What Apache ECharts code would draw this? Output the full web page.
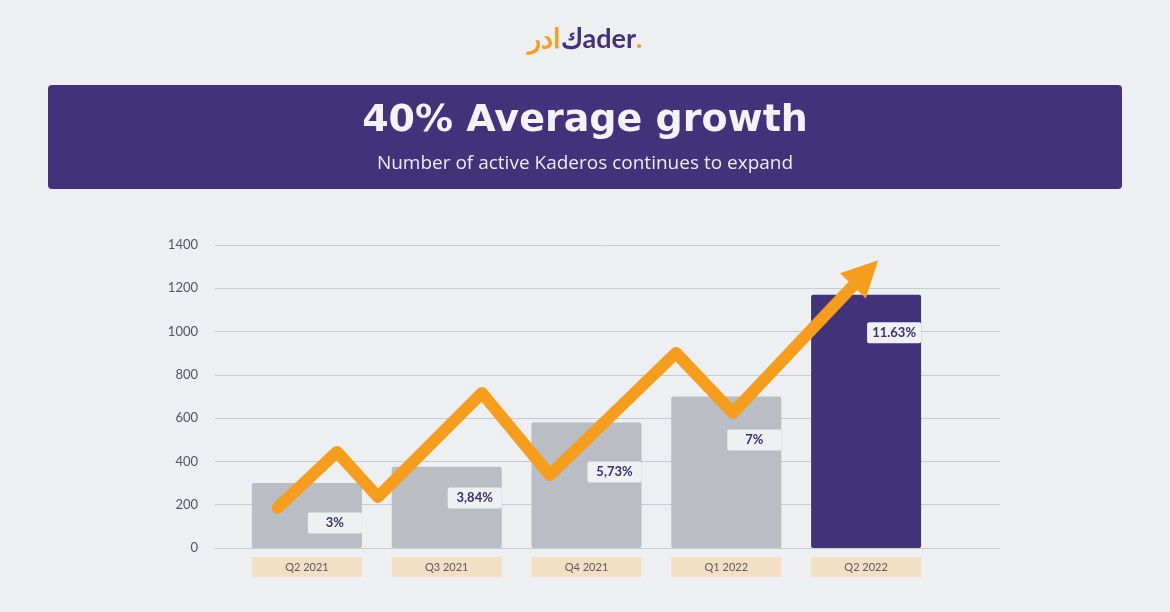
<!DOCTYPE html>
<html>
<head>
<meta charset="utf-8">
<script src="https://cdn.jsdelivr.net/npm/echarts@6/dist/echarts.min.js"></script>
<style>
  html, body { margin: 0; padding: 0; background: #eeeff3; }
  #chart { width: 1170px; height: 612px; }
</style>
</head>
<body>
<div id="chart"></div>
<script>
// quarters on the x axis
var quarters = ['Q2 2021', 'Q3 2021', 'Q4 2021', 'Q1 2022', 'Q2 2022'];
// active Kaderos per quarter
var kaderos = [300, 375, 580, 700, 1170];
// growth labels and the height at which each box sits
var growthText = ['3%', '3,84%', '5,73%', '7%', '11.63%'];
var growthLevel = [116, 231, 351, 499, 994];
// the orange zig-zag arrow, in [quarter index, value] units
var trendPath = [
  [-0.21, 185], [0.215, 444], [0.508, 236], [1.252, 716],
  [1.738, 337], [2.64, 901], [3.047, 624], [3.906, 1211]
];
// last bit of the shaft that carries the arrowhead
var trendHead = [3.996, 1270];
var yTicks = { min: 0, max: 1400, step: 200 };

var PURPLE = '#42327a';
var GREY_BAR = '#babdc4';
var ORANGE = '#f59d1d';

var chart = echarts.init(document.getElementById('chart'));

var option = {
  backgroundColor: '#eeeff3',
  animation: false,
  graphic: [
    {
      type: 'text', left: 'center', top: 26,
      style: {
        text: '{o|ادر}{p|ك}{p|ader}{o|.}',
        rich: {
          o: { fill: ORANGE, fontSize: 27, fontWeight: 'bold', fontFamily: 'Lato' },
          p: { fill: PURPLE, fontSize: 27, fontWeight: 'bold', fontFamily: 'Lato' }
        }
      }
    },
    {
      type: 'rect', shape: { x: 48, y: 85, width: 1074, height: 104, r: 4 },
      style: { fill: PURPLE }
    },
    {
      type: 'text', x: 585, y: 121,
      style: {
        text: '40% Average growth', fill: '#f3f2f8', align: 'center', verticalAlign: 'middle',
        font: 'bold 38px "DejaVu Sans"'
      }
    },
    {
      type: 'text', x: 585, y: 164,
      style: {
        text: 'Number of active Kaderos continues to expand', fill: '#ecebf3',
        align: 'center', verticalAlign: 'middle', font: '19px "Open Sans"'
      }
    }
  ],
  grid: [
    // gridlines + y labels
    { left: 215, right: 170, top: 245, bottom: 64 },
    // bars
    { left: 237, right: 234, top: 245, bottom: 64 }
  ],
  xAxis: [
    { gridIndex: 0, type: 'category', data: quarters, show: false },
    {
      gridIndex: 1, type: 'category', data: quarters,
      axisLine: { show: false }, axisTick: { show: false },
      axisLabel: {
        margin: 9, color: '#5a5a62', fontSize: 11, fontFamily: 'Lato',
        backgroundColor: '#f3dfc3', width: 110, height: 20, lineHeight: 20, align: 'center'
      }
    },
    { gridIndex: 1, type: 'value', min: -0.5, max: 4.5, show: false }
  ],
  yAxis: [
    {
      gridIndex: 0, type: 'value', min: yTicks.min, max: yTicks.max, interval: yTicks.step,
      axisLine: { show: false }, axisTick: { show: false },
      axisLabel: {
        margin: 17, color: '#55555d', fontSize: 13, fontFamily: 'Lato',
        formatter: function (v) { return String(v); }
      },
      splitLine: { lineStyle: { color: '#c9cad0', width: 1 } }
    },
    { gridIndex: 1, type: 'value', min: yTicks.min, max: yTicks.max, show: false }
  ],
  series: [
    {
      type: 'bar', xAxisIndex: 1, yAxisIndex: 1, barWidth: 110,
      data: kaderos.map(function (v, i) {
        return {
          value: v,
          itemStyle: { color: i === kaderos.length - 1 ? PURPLE : GREY_BAR, borderRadius: 2 }
        };
      })
    },
    {
      type: 'lines', coordinateSystem: 'cartesian2d', xAxisIndex: 2, yAxisIndex: 1,
      polyline: true, z: 5,
      lineStyle: { color: ORANGE, width: 12, opacity: 1, cap: 'round', join: 'round' },
      data: [{ coords: trendPath }]
    },
    {
      type: 'lines', coordinateSystem: 'cartesian2d', xAxisIndex: 2, yAxisIndex: 1,
      z: 5, symbol: ['none', 'triangle'], symbolSize: [42, 36],
      itemStyle: { color: ORANGE },
      lineStyle: { color: ORANGE, width: 12, opacity: 1, cap: 'butt' },
      data: [{ coords: [trendPath[trendPath.length - 1], trendHead] }]
    },
    {
      type: 'scatter', xAxisIndex: 2, yAxisIndex: 1, symbolSize: 1, z: 6,
      itemStyle: { color: 'rgba(0,0,0,0)', opacity: 1 },
      data: growthLevel.map(function (v, i) { return [i, v, growthText[i]]; }),
      label: {
        show: true, position: 'inside', offset: [28, 0], opacity: 1,
        formatter: function (p) { return p.value[2]; },
        backgroundColor: '#eef0f4', width: 54, height: 21, lineHeight: 21, align: 'center',
        borderRadius: 2, color: '#3b2f6e', fontSize: 13, fontWeight: 'bold', fontFamily: 'Lato'
      }
    }
  ]
};

chart.setOption(option);
</script>
</body>
</html>
